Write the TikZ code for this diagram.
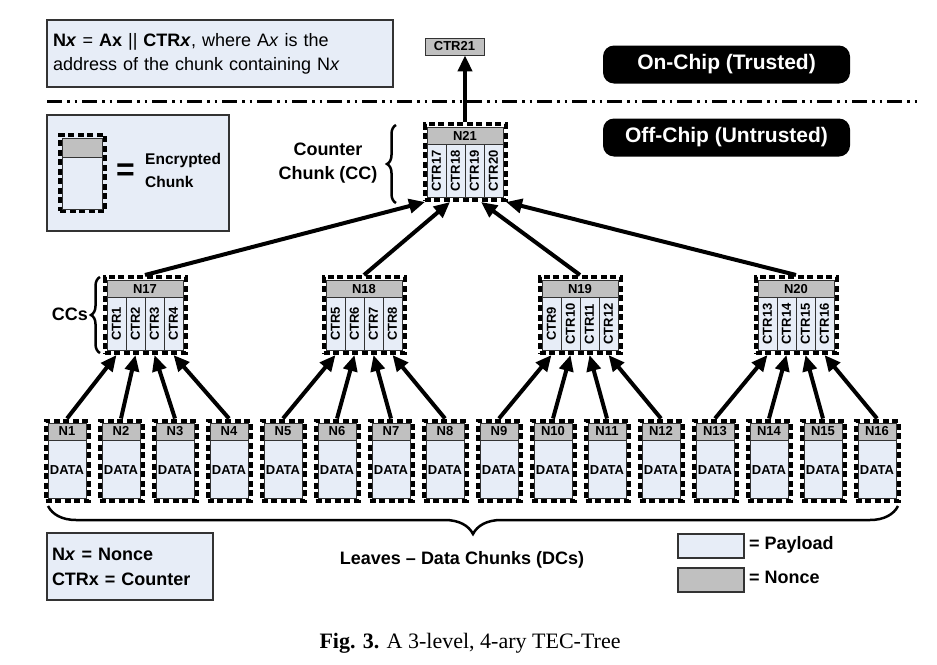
\documentclass[tikz,border=0pt]{standalone}
\usepackage{graphicx}
\usepackage{fontspec}
\setmainfont{Liberation Sans}
\newfontfamily\capfont{Liberation Serif}
\usetikzlibrary{arrows.meta,decorations.pathreplacing,calc}
\definecolor{pay}{HTML}{E7EDF7}
\definecolor{non}{HTML}{C0C0C0}
\definecolor{edge}{HTML}{333333}
\tikzset{
  frame/.style={draw=black, line width=4pt, dash pattern=on 6pt off 3.5pt, inner sep=0pt},
  hdr/.style={draw=edge, line width=0.8pt, fill=non, inner sep=0pt, font=\fontsize{13}{15}\selectfont\bfseries},
  bodyc/.style={draw=edge, line width=0.8pt, fill=pay, inner sep=0pt, font=\fontsize{13}{15}\selectfont\bfseries},
  colc/.style={draw=edge, line width=0.8pt, fill=pay, inner sep=0pt, minimum width=19pt, minimum height=53pt, font=\fontsize{13}{15}\selectfont\bfseries},
  arr/.style={line width=4pt, -{Triangle[length=16pt,width=14pt]}},
  infobox/.style={draw=edge, line width=1.2pt, fill=pay, inner sep=0pt},
  chip/.style={fill=black, text=white, rounded corners=11pt, minimum width=247pt, minimum height=38pt, inner sep=0pt, font=\fontsize{21}{24}\selectfont\bfseries},
  lbl/.style={inner sep=0pt, font=\fontsize{18}{24}\selectfont\bfseries},
  brc/.style={decorate, line width=2.5pt},
}
\newcommand\leafchunk[3]{%
  \node[frame, minimum width=43pt, minimum height=80pt] (#1) at (#2,460.5) {};
  \node[hdr, minimum width=38pt, minimum height=17pt, anchor=north] (#1h) at (#2,422.5) {#3};
  \node[bodyc, minimum width=38pt, minimum height=58pt, anchor=north] (#1b) at (#1h.south) {DATA};
}
\newcommand\ccchunk[8]{%
  \node[frame, minimum width=81pt, minimum height=76pt] (#1) at ({#2},{#3+35.5}) {};
  \node[hdr, minimum width=76pt, minimum height=18pt, anchor=north] (#1h) at (#2,#3) {#4};
  \foreach \lab [count=\i] in {#5,#6,#7,#8} {
    \node[colc] (#1c\i) at ({#2-47.5+19*\i},{#3+44.5}) {\rotatebox{90}{\lab}};
  }
}
\begin{document}
\begin{tikzpicture}[x=1pt,y=-1pt]
\useasboundingbox (0,0) rectangle (937,664);
\fill[white] (0,0) rectangle (937,664);

% top info box
\node[infobox, minimum width=346pt, minimum height=67pt, text width=334pt, align=left,
      font=\fontsize{18}{24}\selectfont] (info) at (220,53.5)
  {\textbf{N\textit{x}} = \textbf{Ax} || \textbf{CTR\textit{x}}, where A\textit{x} is the\\address of the chunk containing N\textit{x}};

% separator
\draw[line width=3pt, dash pattern=on 15pt off 5pt on 2.5pt off 5pt on 2.5pt off 5pt] (47,101) -- (918,101);

% chip labels
\node[chip] (on) at (726.5,64.5) {On-Chip (Trusted)};
\node[chip] (off) at (726.5,137.5) {Off-Chip (Untrusted)};

% encrypted chunk legend
\node[infobox, minimum width=182pt, minimum height=116pt] (enc) at (138,173) {};
\node[frame, minimum width=45pt, minimum height=76pt] (icon) at (82.5,173) {};
\node[hdr, minimum width=40pt, minimum height=19pt, anchor=north] (iconh) at (82.5,137.5) {};
\node[bodyc, minimum width=40pt, minimum height=52pt, anchor=north] (iconb) at (iconh.south) {};
\node[inner sep=0pt, font=\fontsize{32}{32}\selectfont\bfseries] (eq) at (125.5,172) {=};
\node[inner sep=0pt, font=\fontsize{15.5}{18}\selectfont\bfseries, anchor=west] (enct1) at (145,160) {Encrypted};
\node[inner sep=0pt, font=\fontsize{15.5}{18}\selectfont\bfseries, anchor=west] (enct2) at (145,182) {Chunk};

% CTR21
\node[hdr, minimum width=59pt, minimum height=17pt] (CTR21) at (454.5,46.5) {CTR21};

% chunks
\ccchunk{N21}{465}{126.5}{N21}{CTR17}{CTR18}{CTR19}{CTR20}
\ccchunk{N17}{145}{279.5}{N17}{CTR1}{CTR2}{CTR3}{CTR4}
\ccchunk{N18}{364}{279.5}{N18}{CTR5}{CTR6}{CTR7}{CTR8}
\ccchunk{N19}{580}{279.5}{N19}{CTR9}{CTR10}{CTR11}{CTR12}
\ccchunk{N20}{796}{279.5}{N20}{CTR13}{CTR14}{CTR15}{CTR16}
\foreach \k in {1,...,16} {
  \pgfmathsetmacro\xx{67+54*(\k-1)}
  \leafchunk{N\k}{\xx}{N\k}
}

% arrows
\draw[arr] (N21.north) -- (N21.north |- CTR21.south);
\draw[arr] (N17.north) -- ($(N21.south)+(-40,0)$);
\draw[arr] (N18.north) -- ($(N21.south)+(-15,0)$);
\draw[arr] (N19.north) -- ($(N21.south)+(16,0)$);
\draw[arr] (N20.north) -- ($(N21.south)+(41,0)$);
\foreach \k in {1,...,16} {
  \pgfmathtruncatemacro\p{17+int((\k-1)/4)}
  \pgfmathtruncatemacro\c{mod(\k-1,4)+1}
  \draw[arr] (N\k.north) -- (N\p c\c.south |- N\p.south);
}

% braces and labels
\node[lbl, align=center] (cct) at (328,163) {Counter\\Chunk (CC)};
\draw[brc, decoration={brace, amplitude=9pt}] (396,203) -- (396,125);
\node[lbl, anchor=east] (ccs) at (88,314) {CCs};
\draw[brc, decoration={brace, amplitude=9pt}] (100,353) -- (100,277);
\coordinate (bl) at (48,506);
\coordinate (br) at (898,506);
\draw[brc, decoration={brace, amplitude=28pt}] (br) -- (bl);
\node[lbl] (leaves) at (462,560) {Leaves -- Data Chunks (DCs)};

% bottom-left legend
\node[infobox, minimum width=166pt, minimum height=67pt, text width=156pt, align=left,
      font=\fontsize{18}{25}\selectfont\bfseries] (nn) at (130,566.5)
  {N\textit{x} = Nonce\\CTRx = Counter};

% colour legend
\node[infobox, minimum width=66pt, minimum height=24pt] (payb) at (711,546) {};
\node[infobox, fill=non, minimum width=66pt, minimum height=24pt] (nonb) at (711,580) {};
\node[lbl, anchor=west] (payt) at (749,545) {= Payload};
\node[lbl, anchor=west] (nont) at (749,577) {= Nonce};

% caption
\node[inner sep=0pt, font=\capfont\fontsize{22}{26}\selectfont] (cap) at (470,643) {\textbf{Fig. 3.} A 3-level, 4-ary TEC-Tree};
\end{tikzpicture}
\end{document}
